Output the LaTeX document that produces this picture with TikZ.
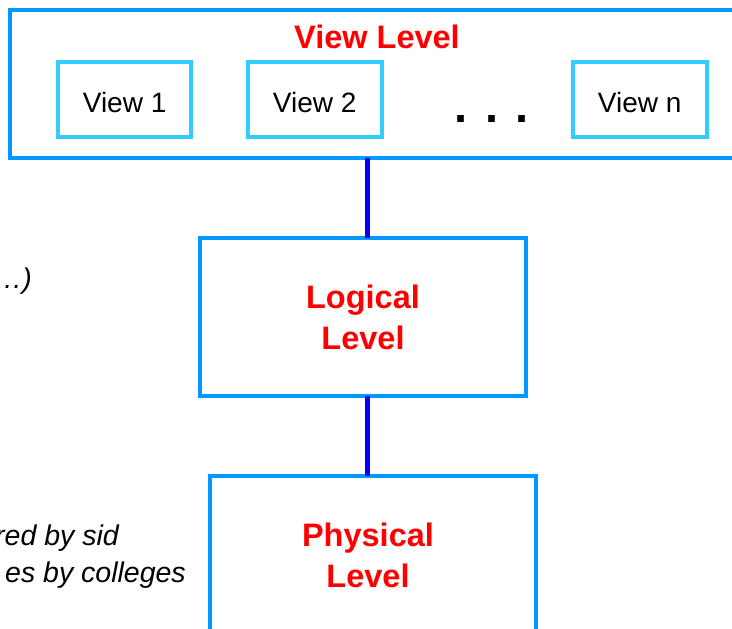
\documentclass[tikz,border=0pt]{standalone}
\usepackage{fontspec}
\setmainfont{Liberation Sans}
\definecolor{boxblue}{HTML}{0099FF}
\definecolor{viewcyan}{HTML}{33CCFF}
\definecolor{connblue}{HTML}{0000FF}
\definecolor{levelred}{HTML}{FF0000}
\begin{document}
\begin{tikzpicture}[x=1pt,y=-1pt,
  levelbox/.style={draw=boxblue, line width=4pt, inner sep=0pt, outer sep=0pt},
  viewbox/.style={draw=viewcyan, line width=4pt, inner sep=0pt, outer sep=0pt,
    minimum width=133.5pt, minimum height=75pt, text height=25pt, text depth=0pt,
    font=\fontsize{28}{32}\selectfont},
  leveltext/.style={text=levelred, inner sep=0pt, align=center,
    font=\fontsize{32.5}{41}\selectfont\bfseries},
  conn/.style={draw=connblue, line width=4.5pt},
  note/.style={inner sep=0pt, font=\fontsize{28.5}{32}\selectfont\itshape}]
\useasboundingbox (0,0) rectangle (732,629);
% view level
\node[levelbox, minimum width=750.5pt, minimum height=148pt] (viewlevel) at (384.75,84) {};
\node[leveltext, anchor=base] (viewtitle) at (377,48) {View Level};
\node[viewbox] (v1) at (124.6,99.5) {View 1};
\node[viewbox] (v2) at (314.75,99.5) {View 2};
\node[viewbox] (vn) at (639.75,99.5) {View n};
\node[inner sep=0pt, anchor=base west, font=\fontsize{47}{50}\selectfont\bfseries] (dots) at (454.7,122) {. . .};
% logical level
\node[levelbox, minimum width=326pt, minimum height=158pt, leveltext] (logical) at (363,317) {Logical\\Level};
% physical level
\node[levelbox, minimum width=326pt, minimum height=160pt] (physical) at (373,556) {};
\node[leveltext] (phystext) at (368,555.2) {Physical\\Level};
% connectors
\draw[conn] ([xshift=4.5pt]logical.north) -- ([xshift=4.5pt]logical.north |- viewlevel.south);
\draw[conn] ([xshift=4.5pt]logical.south) -- ([xshift=4.5pt]logical.south |- physical.north);
% notes (cut off on the left, as in the reference)
\node[note, anchor=base east] (n1) at (32,288) {…)};
\node[note, anchor=base east] (n2) at (119,545) {red by sid};
\node[note, anchor=base east] (n3) at (186,582) {es by colleges};
\end{tikzpicture}
\end{document}
